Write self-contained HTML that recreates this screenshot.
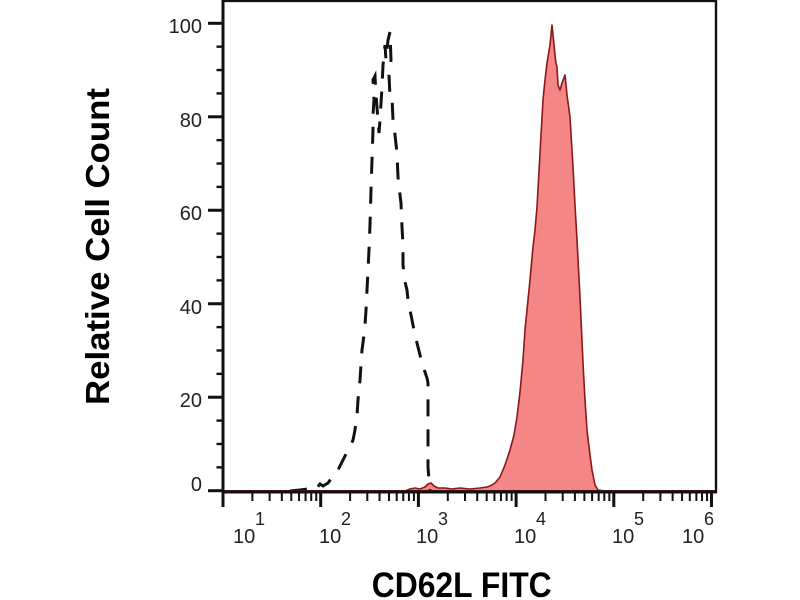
<!DOCTYPE html>
<html>
<head>
<meta charset="utf-8">
<style>
  html, body { margin: 0; padding: 0; background: #ffffff; }
  svg { display: block; }
  text { font-family: "Liberation Sans", sans-serif; }
</style>
</head>
<body>
<svg width="800" height="600" viewBox="0 0 800 600" xmlns="http://www.w3.org/2000/svg">
  <rect x="0" y="0" width="800" height="600" fill="#ffffff"/>

  <path d="M405,491 L410,489 L415,488 L420,489 L425,487 L428,484 L431,483 L434,486 L438,488 L445,488 L452,489 L460,488 L470,489 L480,488 L487,487 L490,486 L495,483 L500,477 L505,465 L510,450 L514,435 L517,417 L520,392 L523,360 L525,330 L528,300 L530,280 L533,247 L535,230 L537,207 L540,153 L543,100 L545,80 L547,63 L550,45 L552,25 L554,45 L555,55 L556,63 L557,67 L558,85 L560,90 L562,83 L565,75 L567,95 L570,117 L573,167 L575,205 L577,240 L580,297 L583,363 L585,400 L587,430 L590,455 L592,470 L595,485 L598,490 L605,491 Z" fill="#f58686" stroke="#8a1818" stroke-width="1.6" stroke-linejoin="round"/>

  <polyline fill="none" stroke="#111" stroke-width="3" stroke-dasharray="17 13" points="290,491 300,490 308,489 312,487 316,489 320,484 323,486 328,483 333,476 338,470 342,462 347,452 350,447 353,440 355,430 357,415 358,400 359,390 360,380 361,365 362,350 364,335 365,325 366,310 367,290 368,270 369,250 370,225 371,190 372,160 373,130 373,115 374,100 373,80 375,76 376,95 378,120 379,133 380,120 382,87 383,65 385,45 386,60 388,40 390,32 391,60 389,75 390,97 392,97 393,120 395,135 397,153 398,177 400,195 401,203 402,227 403,245 403,265 405,282 407,290 408,300 410,310 412,320 415,335 418,347 420,355 423,367 425,372 427,378 428,383 428,410 428,430 428,467 429,480 430,491"/>

  <line x1="223" y1="490.5" x2="716" y2="490.5" stroke="#5a1a1a" stroke-width="1"/>

  <line x1="222" y1="1" x2="717" y2="1" stroke="#111" stroke-width="2.2"/>
  <line x1="716" y1="0" x2="716" y2="493" stroke="#111" stroke-width="2.4"/>
  <line x1="223" y1="0" x2="223" y2="507" stroke="#111" stroke-width="3"/>
  <line x1="222" y1="492" x2="717" y2="492" stroke="#111" stroke-width="3"/>

  <g id="yticks" stroke="#111"></g>
  <g id="xticks" stroke="#111"></g>

  <g font-size="20" fill="#222" text-anchor="end">
    <text x="202" y="33">100</text>
    <text x="202" y="127">80</text>
    <text x="202" y="220">60</text>
    <text x="202" y="314">40</text>
    <text x="202" y="407">20</text>
    <text x="202" y="491">0</text>
  </g>

  <g fill="#222">
    <text x="233" y="543" font-size="20">10</text><text x="255" y="525" font-size="18">1</text>
    <text x="319" y="543" font-size="20">10</text><text x="341" y="525" font-size="18">2</text>
    <text x="416" y="543" font-size="20">10</text><text x="438" y="525" font-size="18">3</text>
    <text x="514" y="543" font-size="20">10</text><text x="536" y="525" font-size="18">4</text>
    <text x="612" y="543" font-size="20">10</text><text x="634" y="525" font-size="18">5</text>
    <text x="682" y="543" font-size="20">10</text><text x="704" y="525" font-size="18">6</text>
  </g>

  <text x="371.7" y="597" font-size="35" font-weight="bold" fill="#000" textLength="180" lengthAdjust="spacingAndGlyphs">CD62L FITC</text>
  <text transform="translate(109,246.5) rotate(-90)" x="0" y="0" text-anchor="middle" font-size="33" font-weight="bold" fill="#000" textLength="317" lengthAdjust="spacingAndGlyphs">Relative Cell Count</text>
</svg>
<script>
(function(){
  var ns = "http://www.w3.org/2000/svg";
  function ln(g, x1, y1, x2, y2, w){
    var l = document.createElementNS(ns, "line");
    l.setAttribute("x1", x1); l.setAttribute("y1", y1);
    l.setAttribute("x2", x2); l.setAttribute("y2", y2);
    l.setAttribute("stroke-width", w);
    g.appendChild(l);
  }
  var yg = document.getElementById("yticks");
  for (var v = 0; v <= 100; v += 5) {
    var y = 490.7 - v * 4.674;
    if (v % 20 === 0) ln(yg, 208, y, 223, y, 3);
    else ln(yg, 216.5, y, 223, y, 2.4);
  }
  var xg = document.getElementById("xticks");
  for (var d = 0; d <= 5; d++) {
    var x0 = 223 + d * 97.7;
    ln(xg, x0, 492, x0, 507, 3);
    if (d < 5) {
      for (var k = 2; k <= 9; k++) {
        var x = x0 + Math.log10(k) * 97.7;
        ln(xg, x, 492, x, 501, 2);
      }
    }
  }
})();
</script>
</body>
</html>
